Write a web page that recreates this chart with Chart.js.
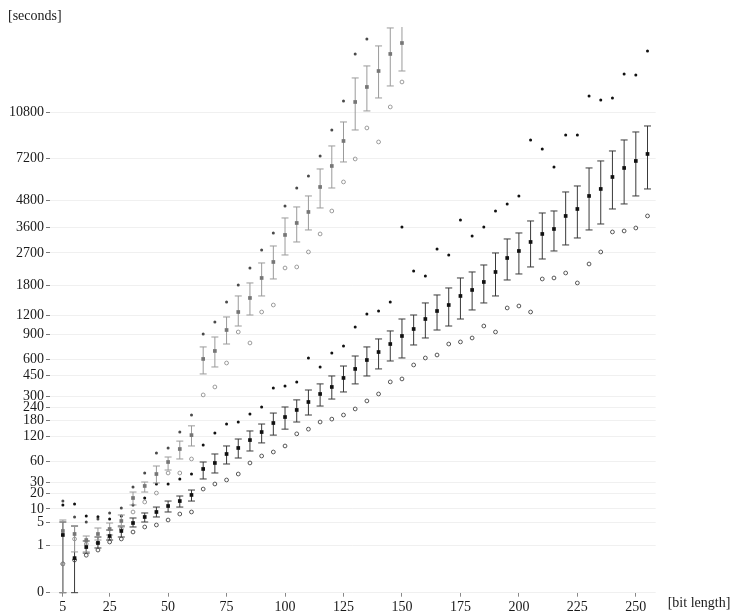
<!DOCTYPE html>
<html>
<head>
<meta charset="utf-8">
<script src="https://cdn.jsdelivr.net/npm/chart.js@4.4.1/dist/chart.umd.min.js"></script>
<style>
  html, body { margin: 0; padding: 0; background: #fff; }
  canvas { display: block; }
</style>
</head>
<body>
<canvas id="c" width="747" height="612"></canvas>
<script>
// ---------- data ----------
const yTickValues = [0, 1, 5, 10, 20, 30, 60, 120, 180, 240, 300, 450, 600, 900, 1200, 1800, 2700, 3600, 4800, 7200, 10800];
const xTickValues = [5, 25, 50, 75, 100, 125, 150, 175, 200, 225, 250];

// black series: bit lengths 5..255
const blackBits = [5,10,15,20,25,30,35,40,45,50,55,60,65,70,75,80,85,90,95,100,105,110,115,120,125,130,135,140,145,150,155,160,165,170,175,180,185,190,195,200,205,210,215,220,225,230,235,240,245,250,255];
const blackMean = [2.25,0.29,0.88,1.24,2.09,2.94,4.78,6.66,8.6,11.45,14.3,18.5,47.5,57.4,75,88.9,110,135,168,193,226,268,316,363,431,508,594,680,775,880,980,1137,1276,1388,1571,1702,1889,2144,2543,2763,3066,3356,3546,4082,4393,5020,5384,6052,6594,7040,7508];
const blackHi = [5.06,4.0,1.45,1.95,3.13,4.0,6.31,8.18,10.9,14.3,17.7,22.5,59.1,75,93.9,113,138.6,164,211,241,280,342,385,447,535,636,739,840,951,1137,1205,1428,1592,1747,1988,2144,2337,2699,3172,3393,3869,4212,4302,5225,5545,6594,7040,7714,8512,9130,9615];
const blackLo = [0,0,0.5,0.81,1.56,1.95,3.78,5.06,6.66,8.6,10.9,14.3,33.9,41.6,55.6,66.7,81.7,102,125,145,172,202,246,285,329,385,447,508,584,615,763,853,965,1025,1137,1295,1428,1571,1938,2091,2281,2513,2763,2963,3208,3508,3745,4393,4627,5020,5384];
const blackMax = [12,12.5,7.0,6.7,6.0,7.0,12,16.3,28.3,28.3,33.9,40.2,96.5,131.8,164,172,207,241,356,370,400,615,526,669,751,1010,1223,1276,1448,3625,2171,2039,2828,2636,3911,3281,3625,4302,4627,5020,8512,7855,6656,8894,8894,12337,11943,12140,14670,14560,17450];
const blackMin = [0.14,0.23,0.4,0.67,1.34,1.69,2.75,3.78,4.26,5.66,7.77,8.6,23.4,28.3,32.7,40.2,57.4,70.8,79.4,93.9,129,145,172,184,202,231,274,316,400,423,545,615,647,775,801,853,1025,936,1332,1369,1258,1963,1988,2117,1865,2366,2731,3431,3469,3585,4082];

// grey series: bit lengths 5..150
const greyBits = [5,10,15,20,25,30,35,40,45,50,55,60,65,70,75,80,85,90,95,100,105,110,115,120,125,130,135,140,145,150];
const greyMean = [2.94,2.41,1.56,2.41,3.34,5.36,16.3,26.3,40.2,59.1,86.4,125,605,692,965,1258,1529,1988,2424,3319,3786,4258,5491,6719,8437,11750,13255,15010,17070,18500];
const greyHi = [5.66,4.0,2.09,3.55,4.78,7.39,20.8,30.4,52.2,68.7,107,157,739,866,1171,1571,1865,2395,2928,3995,4486,5020,6532,8070,9948,14225,15600,18110,20610,22500];
const greyLo = [0,0.56,0.56,1.56,2.25,3.78,12,20.8,29.4,45.9,64.8,93.9,464,526,775,1025,1205,1571,1963,2636,3066,3508,4440,5436,6975,9289,10915,12140,13360,15010];
const greyMax = [14.3,6.66,5.06,6.0,8.18,10.4,25.3,41.6,77.2,88.9,135,202,908,1088,1448,1817,2253,2795,3393,4532,5436,6110,7371,9289,11850,17070,19050,null,null,null];
const greyMin = [0.14,1.69,1.14,1.24,1.81,3.34,8.6,13.7,20.0,41.6,41.6,64.8,310,363,564,936,788,1258,1388,2253,2281,2731,3356,4302,5767,7171,9452,8363,11280,13785];

// ---------- fourth-root value scale ----------
class FourthRootScale extends Chart.Scale {
  static id = 'fourthRoot';
  static defaults = {};
  determineDataLimits() {
    this.min = this.options.min != null ? this.options.min : 0;
    this.max = this.options.max != null ? this.options.max : 1;
  }
  buildTicks() {
    return yTickValues.map(v => ({ value: v }));
  }
  getLabelForValue(v) { return String(v); }
  configure() {
    super.configure();
    this._startValue = Math.pow(Math.max(this.min, 0), 0.25);
    this._valueRange = Math.pow(this.max, 0.25) - this._startValue;
  }
  getPixelForValue(value) {
    if (value === undefined || value === null || isNaN(value)) return NaN;
    const t = Math.pow(Math.max(value, 0), 0.25);
    return this.getPixelForDecimal((t - this._startValue) / this._valueRange);
  }
  getValueForPixel(pixel) {
    const d = this.getDecimalForPixel(pixel);
    return Math.pow(this._startValue + d * this._valueRange, 4);
  }
}
Chart.register(FourthRootScale);

// ---------- helpers ----------
const pts = (xs, ys) => xs.map((x, i) => ({ x: x, y: ys[i] }));
const whiskers = (xs, lo, hi) => {
  const out = [];
  xs.forEach((x, i) => { out.push({ x: x, y: lo[i] }, { x: x, y: hi[i] }, { x: x, y: null }); });
  return out;
};

const FONT = '"Liberation Serif", "Times New Roman", serif';
Chart.defaults.font.family = FONT;
Chart.defaults.font.size = 14;
Chart.defaults.color = '#1a1a1a';

const labelsPlugin = {
  id: 'axisNotes',
  afterDraw(chart) {
    const ctx = chart.ctx;
    const a = chart.chartArea;
    ctx.save();
    ctx.font = '14px ' + FONT;
    ctx.fillStyle = '#1a1a1a';
    ctx.textBaseline = 'alphabetic';
    ctx.textAlign = 'left';
    ctx.fillText('[seconds]', 8, 20);
    ctx.fillText('[bit length]', a.right + 12, 607);
    ctx.restore();
  }
};

const pointSet = (data, opts) => Object.assign({
  type: 'line', data: data, showLine: false, borderWidth: 0, clip: false
}, opts);

new Chart(document.getElementById('c'), {
  type: 'line',
  data: {
    datasets: [
      pointSet(pts(greyBits, greyMean), { pointStyle: 'rect', pointRadius: 2.6, backgroundColor: '#767676', borderColor: '#767676', pointBorderWidth: 0 }),
      pointSet(pts(blackBits, blackMean), { pointStyle: 'rect', pointRadius: 2.6, backgroundColor: '#111', borderColor: '#111', pointBorderWidth: 0 }),
      {
        type: 'line', data: whiskers(greyBits, greyLo, greyHi), spanGaps: false,
        borderColor: '#9a9a9a', borderWidth: 1, pointStyle: 'line', pointRadius: 3.5,
        pointBorderColor: '#9a9a9a', pointBorderWidth: 1,
        clip: { left: 8, right: 8, top: 0, bottom: 8 }
      },
      {
        type: 'line', data: whiskers(blackBits, blackLo, blackHi), spanGaps: false,
        borderColor: '#3a3a3a', borderWidth: 1, pointStyle: 'line', pointRadius: 3.5,
        pointBorderColor: '#3a3a3a', pointBorderWidth: 1,
        clip: { left: 8, right: 8, top: 0, bottom: 8 }
      },
      pointSet(pts(greyBits, greyMax), { pointStyle: 'circle', pointRadius: 1.5, backgroundColor: '#4a4a4a', borderColor: '#4a4a4a', pointBorderWidth: 0 }),
      pointSet(pts(blackBits, blackMax), { pointStyle: 'circle', pointRadius: 1.5, backgroundColor: '#111', borderColor: '#111', pointBorderWidth: 0 }),
      pointSet(pts(greyBits, greyMin), { pointStyle: 'circle', pointRadius: 1.9, backgroundColor: 'rgba(255,255,255,0)', borderColor: '#9a9a9a', pointBorderWidth: 1 }),
      pointSet(pts(blackBits, blackMin), { pointStyle: 'circle', pointRadius: 1.9, backgroundColor: 'rgba(255,255,255,0)', borderColor: '#555', pointBorderWidth: 1 })
    ]
  },
  options: {
    responsive: false,
    devicePixelRatio: 1,
    animation: false,
    events: [],
    layout: { padding: { left: 0, right: 91.3, top: 27.1, bottom: 0 } },
    plugins: { legend: { display: false }, tooltip: { enabled: false }, title: { display: false } },
    scales: {
      x: {
        type: 'linear',
        min: -0.5,
        max: 258.5,
        afterBuildTicks: s => { s.ticks = xTickValues.map(v => ({ value: v })); },
        afterFit: s => { s.height = 19.3; },
        grid: { drawOnChartArea: false, drawTicks: true, tickLength: 4, tickColor: '#888' },
        border: { display: false },
        ticks: { autoSkip: false, maxRotation: 0, padding: 2, color: '#1a1a1a', font: { size: 14 } }
      },
      y: {
        type: 'fourthRoot',
        min: 0,
        max: 20736,
        afterFit: s => { s.width = 50; },
        grid: { color: '#f0f0f0', lineWidth: 1, drawTicks: true, tickLength: 4, tickColor: '#777' },
        border: { display: false },
        ticks: { autoSkip: false, padding: 2, color: '#1a1a1a', font: { size: 14 }, callback: v => String(v) }
      }
    }
  },
  plugins: [labelsPlugin]
});
</script>
</body>
</html>
